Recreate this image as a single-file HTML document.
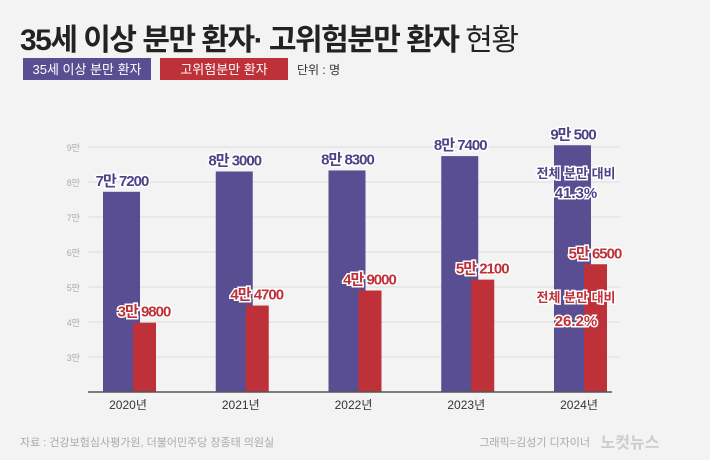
<!DOCTYPE html>
<html><head><meta charset="utf-8"><style>
body{margin:0;width:710px;height:460px;overflow:hidden;background:#f3f3f3;font-family:"Liberation Sans","Noto Sans CJK KR",sans-serif}
svg{display:block}
</style></head><body>
<svg width="710" height="460" viewBox="0 0 710 460" font-family="Liberation Sans, Noto Sans CJK KR, sans-serif">
<rect width="710" height="460" fill="#f3f3f3"/>
<text x="20" y="50" font-size="30" font-weight="bold" fill="#222" letter-spacing="-1.5">35세 이상 분만 환자· 고위험분만 환자 <tspan font-weight="normal">현황</tspan></text>
<rect x="23" y="58" width="128" height="22" fill="#5a4e92"/>
<text x="87" y="74" font-size="13" fill="#fff" text-anchor="middle">35세 이상 분만 환자</text>
<rect x="160" y="58" width="128" height="22" fill="#bf3138"/>
<text x="224" y="74" font-size="13" fill="#fff" text-anchor="middle">고위험분만 환자</text>
<text x="297" y="74" font-size="12" fill="#333">단위 : 명</text>
<g id="grid"></g>
<g id="bars"></g>
<line x1="88" y1="392" x2="612" y2="392" stroke="#555" stroke-width="1.5"/>
<text x="20" y="446" font-size="11" fill="#aaa">자료 : 건강보험심사평가원, 더불어민주당 장종태 의원실</text>
<text x="590" y="446" font-size="11" fill="#aaa" text-anchor="end">그래픽=김성기 디자이너</text>
<text x="630" y="448" font-size="16" font-weight="bold" fill="#ccc" text-anchor="middle">노컷뉴스</text>
</svg>
<script>
const years=["2020년","2021년","2022년","2023년","2024년"];
const older=[77200,83000,83300,87400,90500];
const olderLabels=["7만 7200","8만 3000","8만 8300","8만 7400","9만 500"];
const highRisk=[39800,44700,49000,52100,56500];
const riskLabels=["3만 9800","4만 4700","4만 9000","5만 2100","5만 6500"];
const ticks=[30000,40000,50000,60000,70000,80000,90000];
const tickLabels=["3만","4만","5만","6만","7만","8만","9만"];
const NS="http://www.w3.org/2000/svg";
function y(v){return 392-(v-20000)/10000*35;}
function gx(i){return 103+i*112.75;}
function mk(t,a,p){const e=document.createElementNS(NS,t);for(const k in a)e.setAttribute(k,a[k]);p.appendChild(e);return e;}
const grid=document.getElementById('grid'),bars=document.getElementById('bars');
ticks.forEach((t,i)=>{
 const l=mk('line',{x1:88,x2:620,y1:y(t),y2:y(t),stroke:'#ddd','stroke-width':1},grid);
 
 
 const tx=mk('text',{x:80,y:y(t)+4,'font-size':9,fill:'#aaa','text-anchor':'end'},grid);
 tx.textContent=tickLabels[i];
 
 
});
years.forEach((yr,i)=>{
 const x=gx(i);
 const b=mk('rect',{x:x,y:y(older[i]),width:37,height:392-y(older[i]),fill:'#5a4e92'},bars);
 
 
 const r=mk('rect',{x:x+30,y:y(highRisk[i]),width:23,height:392-y(highRisk[i]),fill:'#bf3138'},bars);
 
 
 const t1=mk('text',{x:x+19,y:y(older[i])-6,'font-size':15,'font-weight':'bold',fill:'#4d4288','text-anchor':'middle',stroke:'#fff','stroke-width':3,'paint-order':'stroke','letter-spacing':-1},bars);
 t1.textContent=olderLabels[i];
 
 
 const t2=mk('text',{x:x+41,y:y(highRisk[i])-6,'font-size':15,'font-weight':'bold',fill:'#bf3138','text-anchor':'middle',stroke:'#fff','stroke-width':3,'paint-order':'stroke','letter-spacing':-1},bars);
 t2.textContent=riskLabels[i];
 
 
 const yl=mk('text',{x:x+25,y:409,'font-size':12,fill:'#333','text-anchor':'middle'},bars);
 yl.textContent=yr;
 
 
});
const last=4,lx=gx(last);
[["전체 분만 대비",178,13,'#4d4288'],["41.3%",198,15,'#4d4288'],["전체 분만 대비",302,13,'#bf3138'],["26.2%",326,15,'#bf3138']].forEach((a,k)=>{
 const t=mk('text',{x:lx+22,y:a[1],'font-size':a[2],'font-weight':'bold',fill:a[3],'text-anchor':'middle',stroke:'#fff','stroke-width':3,'paint-order':'stroke'},bars);
 t.textContent=a[0];
 
 
});
</script>
</body></html>
